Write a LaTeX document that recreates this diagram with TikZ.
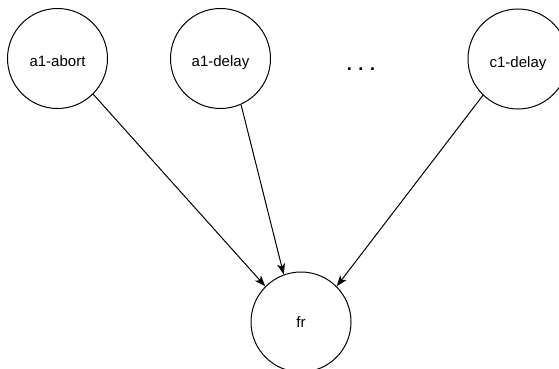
\documentclass[tikz,border=0pt]{standalone}
\usepackage{fontspec}
\setmainfont{Liberation Sans}
\usetikzlibrary{arrows.meta}
\begin{document}
\begin{tikzpicture}[x=1pt,y=-1pt,
  state/.style={circle,draw=black,line width=1pt,minimum size=100pt,inner sep=0pt,
    font=\fontsize{15}{18}\selectfont},
  upper/.style={state,text height=16pt,text depth=0pt},
  edge/.style={draw=black,line width=1pt,-{Stealth[length=11pt,width=8pt,inset=3pt]}},
  dots/.style={font=\fontsize{18}{22}\selectfont\bfseries,inner sep=0pt}]
  \useasboundingbox (0,0) rectangle (559,369);
  \clip (0,0) rectangle (559,369);
  % variable nodes
  \node[upper] (aabort) at (57.5,58.5) {a1-abort};
  \node[upper] (adelay) at (220.5,58.5) {a1-delay};
  \node[upper] (cdelay) at (518,59) {c1-delay};
  \node[dots] (more) at (361,69) {. . .};
  % target node
  \node[state] (fr) at (301,322) {fr};
  % dependencies
  \draw[edge] (aabort.-45) -- (fr.135);
  \draw[edge] (adelay.-66) -- (fr.110);
  \draw[edge] (cdelay.-134) -- (fr.45);
\end{tikzpicture}
\end{document}
